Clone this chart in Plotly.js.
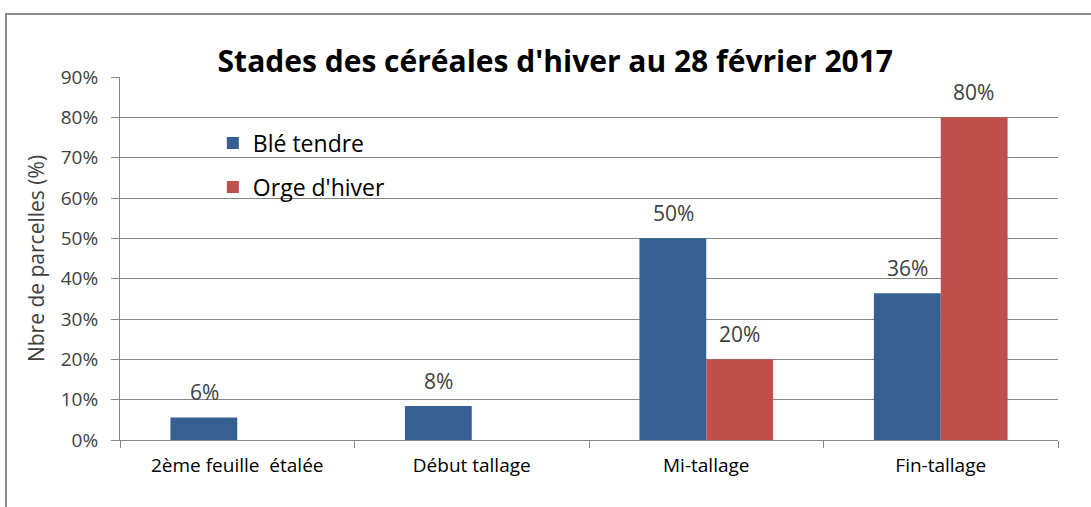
<!DOCTYPE html>
<html><head><meta charset="utf-8">
<script src="https://cdn.plot.ly/plotly-3.0.1.min.js"></script>
<style>
html,body{margin:0;padding:0;background:#fff;}
#wrap{position:relative;width:1091px;height:507px;overflow:hidden;}
#chart{position:absolute;left:0;top:0;width:1091px;height:507px;}
#frame{position:absolute;left:5px;top:13px;width:1200px;height:600px;border-left:2px solid #8c8c8c;border-top:2px solid #8c8c8c;pointer-events:none;}
</style></head>
<body><div id="wrap"><div id="chart"></div><div id="frame"></div></div>
<script>
const categories = ["2ème feuille  étalée", "Début tallage", "Mi-tallage", "Fin-tallage"];
const bleTendre = [5.6, 8.4, 50, 36.4];
const orgeHiver = [null, null, 20, 80];
const seriesNames = ["Blé tendre", "Orge d'hiver"];
const yTickVals = [0,10,20,30,40,50,60,70,80,90];
const yTickText = ["0%","10%","20%","30%","40%","50%","60%","70%","80%","90%"];

const FONT = "'Open Sans', 'Noto Sans', sans-serif";
const series = [bleTendre, orgeHiver];
const colors = ["#376092", "#C0504D"];
const shifts = [-33, 33];

const traces = series.map((vals, i) => ({
  type: "bar", x: categories, y: vals, name: seriesNames[i],
  marker: {color: colors[i]}, legendgroup: "g" + i, hoverinfo: "none"
}));

const annotations = [];
series.forEach((vals, i) => {
  vals.forEach((v, j) => {
    if (v === null) return;
    annotations.push({x: categories[j], y: v, xref: "x", yref: "y", xshift: shifts[i], yshift: 25,
      text: Math.round(v) + "%", showarrow: false, font: {family: FONT, size: 21, color: "#404040"}});
  });
});

const layout = {
  width: 1091, height: 507,
  margin: {l: 120, r: 33, t: 77, b: 67},
  paper_bgcolor: "#fff", plot_bgcolor: "#fff",
  font: {family: FONT, color: "#404040"},
  title: {text: "<b>Stades des céréales d'hiver au 28 février 2017</b>", x: 0.509, xref: "container", xanchor: "center",
    y: 1 - 51/507, yref: "container", font: {family: FONT, size: 30, color: "#000"}},
  barmode: "group", bargap: 0.43, bargroupgap: 0,
  showlegend: true,
  legend: {x: 0.099, y: 0.877, xanchor: "left", yanchor: "top", bgcolor: "rgba(0,0,0,0)",
    font: {family: FONT, size: 23, color: "#000"}, tracegroupgap: 11},
  xaxis: {type: "category", showline: true, linecolor: "#868686", linewidth: 1, ticks: "outside", tickson: "boundaries",
    ticklen: 7, tickcolor: "#868686", showgrid: false, ticklabelstandoff: 8,
    tickfont: {family: FONT, size: 19, color: "#000"}, fixedrange: true},
  yaxis: {range: [0, 90], tickvals: yTickVals, ticktext: yTickText, showline: true, linecolor: "#868686", linewidth: 1,
    ticks: "outside", ticklen: 8, tickcolor: "#868686", gridcolor: "#868686", gridwidth: 1, zeroline: false,
    ticklabelstandoff: 9,
    tickfont: {family: FONT, size: 19, color: "#404040"},
    title: {text: "Nbre de parcelles (%)", font: {family: FONT, size: 21, color: "#404040"}, standoff: 10}, fixedrange: true},
  annotations: annotations
};
Plotly.newPlot("chart", traces, layout, {staticPlot: true});
</script></body></html>
